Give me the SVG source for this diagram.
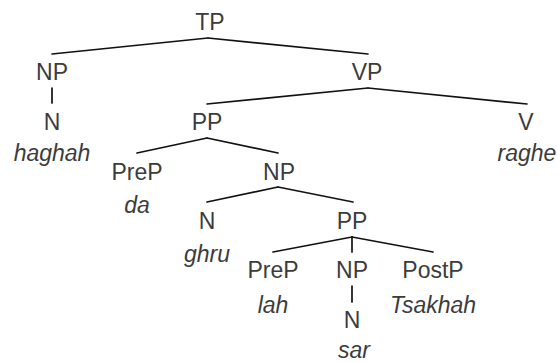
<svg xmlns="http://www.w3.org/2000/svg" width="557" height="362" viewBox="0 0 557 362">
  <style>
    .lbl { font-family: "Liberation Sans", Arial, sans-serif; font-size: 23px; fill: #3c3c3c; text-anchor: middle; }
    .word { font-style: italic; }
    .edge { stroke: #111; stroke-width: 1.7; fill: none; stroke-linecap: round; }
  </style>
  <rect width="557" height="362" fill="#fff"/>

  <!-- tree branches -->
  <g id="connectors">
    <line class="edge" x1="208" y1="38" x2="52" y2="54"/>
    <line class="edge" x1="208" y1="38" x2="368" y2="54"/>
    <line class="edge" x1="52" y1="88" x2="52" y2="103"/>
    <line class="edge" x1="368" y1="88" x2="207" y2="104"/>
    <line class="edge" x1="368" y1="88" x2="527" y2="104"/>
    <line class="edge" x1="207" y1="138" x2="137" y2="153"/>
    <line class="edge" x1="207" y1="138" x2="278" y2="153"/>
    <line class="edge" x1="278" y1="187" x2="207" y2="202"/>
    <line class="edge" x1="278" y1="187" x2="353" y2="202"/>
    <line class="edge" x1="352" y1="237" x2="273" y2="252"/>
    <line class="edge" x1="352" y1="237" x2="352" y2="252"/>
    <line class="edge" x1="352" y1="237" x2="433" y2="252"/>
    <line class="edge" x1="352" y1="286" x2="352" y2="302"/>
  </g>

  <!-- category nodes -->
  <g id="tp"><text class="lbl" x="210" y="30">TP</text></g>
  <g id="np-subj"><text class="lbl" x="52" y="80">NP</text></g>
  <g id="vp"><text class="lbl" x="367" y="80">VP</text></g>
  <g id="n-subj"><text class="lbl" x="52" y="130">N</text></g>
  <g id="pp-outer"><text class="lbl" x="207" y="130">PP</text></g>
  <g id="v"><text class="lbl" x="526" y="130">V</text></g>
  <g id="prep-outer"><text class="lbl" x="137" y="180">PreP</text></g>
  <g id="np-outer"><text class="lbl" x="279" y="180">NP</text></g>
  <g id="n-mid"><text class="lbl" x="207" y="229">N</text></g>
  <g id="pp-inner"><text class="lbl" x="352" y="229">PP</text></g>
  <g id="prep-inner"><text class="lbl" x="273" y="278">PreP</text></g>
  <g id="np-inner"><text class="lbl" x="352" y="278">NP</text></g>
  <g id="postp"><text class="lbl" x="433" y="278">PostP</text></g>
  <g id="n-inner"><text class="lbl" x="352" y="328">N</text></g>

  <!-- lexical items -->
  <g id="w-haghah"><text class="lbl word" x="52" y="161">haghah</text></g>
  <g id="w-raghe"><text class="lbl word" x="527" y="161">raghe</text></g>
  <g id="w-da"><text class="lbl word" x="137" y="213">da</text></g>
  <g id="w-ghru"><text class="lbl word" x="207" y="262">ghru</text></g>
  <g id="w-lah"><text class="lbl word" x="273" y="313">lah</text></g>
  <g id="w-tsakhah"><text class="lbl word" x="433" y="313">Tsakhah</text></g>
  <g id="w-sar"><text class="lbl word" x="354" y="358">sar</text></g>
</svg>
